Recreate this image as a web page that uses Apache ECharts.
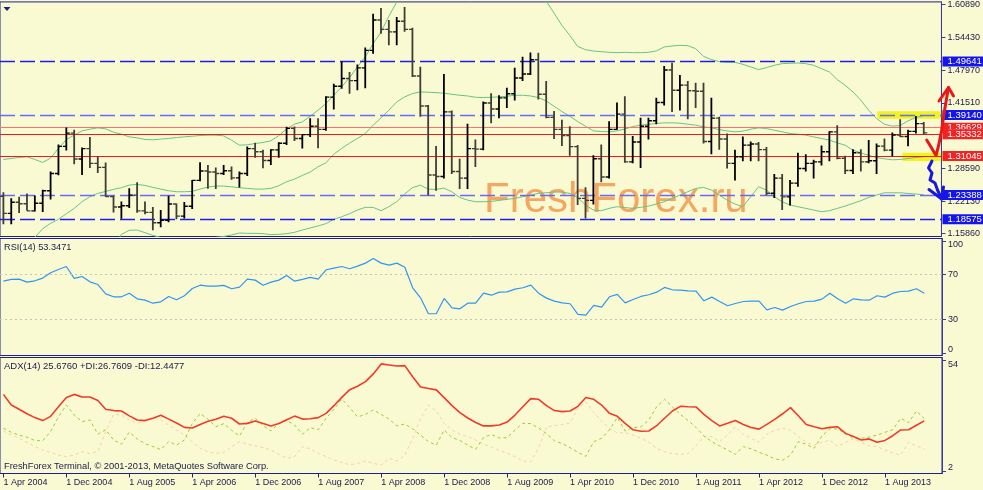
<!DOCTYPE html>
<html><head><meta charset="utf-8">
<script src="https://cdn.jsdelivr.net/npm/echarts@6/dist/echarts.min.js"></script>
<style>html,body{margin:0;padding:0;background:#FAFAD2;}#c{width:983px;height:490px;}</style>
</head><body><div id="c"></div>
<script>
// ---- data (EURUSD, monthly, 1 Apr 2004 .. 1 Jan 2014) ----
const opens = [1.2310,1.1975,1.2195,1.2165,1.2025,1.2175,1.2420,1.2760,1.3295,1.3555,
1.3045,1.3250,1.2960,1.2880,1.2305,1.2100,1.2125,1.2335,1.2025,1.1995,
1.1790,1.1840,1.2160,1.1920,1.2115,1.2625,1.2810,1.2790,1.2760,1.2815,
1.2675,1.2760,1.3250,1.3190,1.3015,1.3225,1.3355,1.3650,1.3450,1.3525,
1.3690,1.3630,1.4265,1.4480,1.4630,1.4590,1.4840,1.5185,1.5785,1.5600,
1.5550,1.5760,1.5600,1.4680,1.4090,1.2730,1.2700,1.3975,1.2800,1.2670,
1.3250,1.3240,1.4150,1.4030,1.4250,1.4330,1.4640,1.4720,1.5000,1.4320,
1.3865,1.3630,1.3510,1.3290,1.2270,1.2230,1.3050,1.2690,1.3630,1.3930,
1.2990,1.3380,1.3690,1.3800,1.4160,1.4800,1.4400,1.4500,1.4390,1.4380,
1.3390,1.3850,1.3440,1.2960,1.3090,1.3320,1.3340,1.3230,1.2370,1.2670,
1.2300,1.2570,1.2860,1.2960,1.2990,1.3190,1.3580,1.3060,1.2820,1.3170,
1.2990,1.3010,1.3300,1.3220,1.3520,1.3490,1.3590,1.3743];
const highs = [1.2390,1.2275,1.2300,1.2365,1.2325,1.2440,1.2800,1.3330,1.3667,1.3620,
1.3270,1.3480,1.3100,1.2975,1.2320,1.2210,1.2470,1.2590,1.2210,1.2100,
1.2040,1.2320,1.2170,1.2200,1.2630,1.2980,1.2930,1.2880,1.2930,1.2900,
1.2800,1.3290,1.3365,1.3230,1.3240,1.3375,1.3680,1.3685,1.3530,1.3850,
1.3850,1.4280,1.4527,1.4966,1.4760,1.4905,1.5240,1.5905,1.6019,1.5785,
1.5845,1.6038,1.5630,1.4865,1.4110,1.3300,1.4720,1.4000,1.3050,1.3740,
1.3430,1.4180,1.4340,1.4300,1.4450,1.4845,1.5060,1.5145,1.5140,1.4580,
1.3990,1.3820,1.3690,1.3320,1.2490,1.3120,1.3330,1.3790,1.4160,1.4280,
1.3500,1.3860,1.3860,1.4250,1.4880,1.4940,1.4700,1.4580,1.4550,1.4550,
1.4250,1.3880,1.3550,1.3230,1.3490,1.3390,1.3380,1.3280,1.2750,1.2750,
1.2630,1.3170,1.3140,1.3030,1.3310,1.3590,1.3710,1.3110,1.3240,1.3240,
1.3420,1.3350,1.3450,1.3570,1.3830,1.3620,1.3893,1.3775];
const lows = [1.1760,1.1760,1.1980,1.2025,1.2010,1.2000,1.2250,1.2725,1.3215,1.2940,
1.2730,1.2870,1.2770,1.2300,1.1990,1.1870,1.2080,1.1985,1.1960,1.1640,
1.1700,1.1800,1.1860,1.1875,1.2060,1.2610,1.2460,1.2455,1.2730,1.2635,
1.2485,1.2710,1.3070,1.2865,1.2930,1.3070,1.3320,1.3400,1.3255,1.3480,
1.3260,1.3600,1.4020,1.4430,1.4330,1.4400,1.4440,1.5120,1.5515,1.5285,
1.5285,1.5550,1.4660,1.3880,1.2330,1.2420,1.2660,1.2750,1.2455,1.2455,
1.2890,1.3220,1.3750,1.3850,1.4050,1.4200,1.4580,1.4700,1.4220,1.3850,
1.3440,1.3300,1.3110,1.2140,1.1875,1.2150,1.2590,1.2660,1.3620,1.2970,
1.2960,1.2870,1.3430,1.3730,1.4100,1.3970,1.4000,1.3830,1.4050,1.3350,
1.3140,1.3230,1.2860,1.2620,1.3000,1.3000,1.3000,1.2330,1.2280,1.2040,
1.2130,1.2500,1.2800,1.2660,1.2920,1.3000,1.3040,1.2750,1.2750,1.2800,
1.2960,1.2750,1.3200,1.3100,1.3480,1.3295,1.3548,1.3530];
const closes = [1.1975,1.2195,1.2165,1.2025,1.2175,1.2420,1.2760,1.3295,1.3555,1.3045,
1.3250,1.2960,1.2880,1.2305,1.2100,1.2125,1.2335,1.2025,1.1995,1.1790,
1.1840,1.2160,1.1920,1.2115,1.2625,1.2810,1.2790,1.2760,1.2815,1.2675,
1.2760,1.3250,1.3190,1.3015,1.3225,1.3355,1.3650,1.3450,1.3525,1.3690,
1.3630,1.4265,1.4480,1.4630,1.4590,1.4840,1.5185,1.5785,1.5600,1.5550,
1.5760,1.5600,1.4680,1.4090,1.2730,1.2700,1.3975,1.2800,1.2670,1.3250,
1.3240,1.4150,1.4030,1.4250,1.4330,1.4640,1.4720,1.5000,1.4320,1.3865,
1.3630,1.3510,1.3290,1.2270,1.2230,1.3050,1.2690,1.3630,1.3930,1.2990,
1.3380,1.3690,1.3800,1.4160,1.4800,1.4400,1.4500,1.4390,1.4380,1.3390,
1.3850,1.3440,1.2960,1.3090,1.3320,1.3340,1.3230,1.2370,1.2670,1.2300,
1.2570,1.2860,1.2960,1.2990,1.3190,1.3580,1.3060,1.2820,1.3170,1.2990,
1.3010,1.3300,1.3220,1.3520,1.3490,1.3590,1.3743,1.3560];

const bbUpper = [1.3037,1.3056,1.3076,1.3089,1.3037,1.2978,1.3063,1.3253,1.3430,1.3515,
1.3600,1.3633,1.3659,1.3640,1.3574,1.3535,1.3482,1.3463,1.3430,1.3424,
1.3437,1.3450,1.3469,1.3482,1.3495,1.3508,1.3515,1.3515,1.3502,1.3417,
1.3318,1.3325,1.3351,1.3371,1.3404,1.3502,1.3640,1.3731,1.3777,1.3889,
1.4007,1.4138,1.4301,1.4465,1.4649,1.4859,1.5055,1.5317,1.5547,1.5855,
1.6137,1.6400,1.6600,1.6800,1.7000,1.7100,1.7200,1.7200,1.7100,1.7000,
1.6900,1.6800,1.6700,1.6600,1.6500,1.6400,1.6300,1.6250,1.6200,1.6156,
1.5920,1.5678,1.5481,1.5265,1.5199,1.5173,1.5160,1.5147,1.5140,1.5147,
1.5140,1.5140,1.5147,1.5173,1.5252,1.5272,1.5285,1.5278,1.5219,1.5068,
1.5003,1.4964,1.4950,1.4950,1.4911,1.4859,1.4806,1.4846,1.4891,1.4924,
1.4931,1.4937,1.4924,1.4891,1.4826,1.4760,1.4610,1.4498,1.4367,1.4203,
1.4007,1.3843,1.3731,1.3692,1.3705,1.3797,1.3862,1.3902];
const bbMiddle = [1.1300,1.1350,1.1380,1.1420,1.1503,1.1673,1.1778,1.1857,1.1968,1.2073,
1.2204,1.2302,1.2368,1.2407,1.2447,1.2480,1.2532,1.2545,1.2525,1.2486,
1.2453,1.2421,1.2401,1.2401,1.2407,1.2453,1.2493,1.2512,1.2512,1.2499,
1.2480,1.2467,1.2453,1.2453,1.2467,1.2519,1.2597,1.2650,1.2722,1.2788,
1.2893,1.2971,1.3141,1.3253,1.3358,1.3450,1.3548,1.3712,1.3856,1.4007,
1.4170,1.4269,1.4334,1.4367,1.4361,1.4354,1.4341,1.4321,1.4301,1.4288,
1.4262,1.4256,1.4262,1.4269,1.4282,1.4301,1.4301,1.4288,1.4256,1.4190,
1.4085,1.3980,1.3889,1.3784,1.3692,1.3600,1.3587,1.3581,1.3600,1.3636,
1.3685,1.3712,1.3731,1.3744,1.3758,1.3758,1.3751,1.3731,1.3712,1.3679,
1.3659,1.3626,1.3600,1.3581,1.3594,1.3633,1.3659,1.3646,1.3613,1.3581,
1.3548,1.3535,1.3515,1.3482,1.3450,1.3417,1.3364,1.3318,1.3220,1.3168,
1.3115,1.3076,1.3050,1.3030,1.3037,1.3056,1.3076,1.3089];
const bbLower = [0.9500,0.9600,0.9700,0.9800,0.9900,1.0000,1.0100,1.0300,1.0500,1.0600,
1.0800,1.1000,1.1100,1.1200,1.1300,1.1562,1.1641,1.1647,1.1595,1.1542,
1.1500,1.1450,1.1420,1.1400,1.1400,1.1450,1.1480,1.1500,1.1520,1.1550,
1.1588,1.1582,1.1582,1.1575,1.1556,1.1562,1.1575,1.1601,1.1647,1.1687,
1.1726,1.1772,1.1857,1.1909,1.1968,1.2040,1.2093,1.2093,1.2027,1.2106,
1.2204,1.2355,1.2480,1.2532,1.2453,1.2447,1.2473,1.2401,1.2289,1.2237,
1.2204,1.2204,1.2211,1.2230,1.2250,1.2270,1.2302,1.2335,1.2368,1.2381,
1.2394,1.2394,1.2368,1.2289,1.2139,1.2040,1.2027,1.2073,1.2106,1.2090,
1.2073,1.2093,1.2119,1.2158,1.2204,1.2270,1.2335,1.2401,1.2467,1.2486,
1.2434,1.2335,1.2237,1.2158,1.2106,1.2302,1.2499,1.2434,1.2302,1.2204,
1.2139,1.2106,1.2073,1.2040,1.2008,1.2027,1.2073,1.2119,1.2171,1.2224,
1.2289,1.2335,1.2381,1.2381,1.2381,1.2368,1.2355,1.2342];

const rsi = [64.1,65.6,65.9,63.2,64.4,66.8,71.5,74.5,77.1,66.5,
68.2,63.5,61.1,52.8,50.2,50.2,53.4,48.4,47.2,44.5,
45.7,50.5,47.5,51.1,57.6,60.5,59.7,59.7,60.3,57.3,
58.8,65.9,65.0,60.5,63.2,65.0,69.1,64.1,65.6,67.4,
65.9,74.2,75.7,77.1,75.1,77.4,80.1,84.3,80.1,78.3,
80.1,76.5,58.2,49.3,35.1,35.1,48.7,40.4,39.5,44.5,
44.5,53.4,51.6,54.3,54.6,57.0,58.2,60.5,53.4,49.0,
46.3,44.8,44.0,34.5,33.9,42.5,41.0,50.2,52.3,44.8,
47.8,50.5,52.0,54.3,58.5,56.4,56.1,55.5,55.2,46.6,
49.9,46.0,42.2,44.2,46.0,46.3,46.3,38.6,40.7,38.3,
41.6,44.0,46.0,46.3,48.1,53.4,48.4,44.5,48.4,47.5,
47.2,51.1,49.9,53.4,54.9,55.2,57.3,53.35];

const adx = [38.1,33.1,31.1,29.0,27.2,25.8,27.8,32.3,36.6,38.1,
36.9,36.9,35.2,31.1,30.5,30.3,28.0,26.1,25.8,26.9,
28.3,26.5,24.7,22.6,22.3,24.0,25.5,26.4,27.8,26.9,
24.2,24.5,25.6,24.4,23.3,24.4,26.2,27.9,26.5,26.7,
27.2,29.2,32.8,36.7,40.3,41.9,44.1,47.7,52.4,51.9,
51.4,51.6,46.4,41.6,40.9,40.2,36.6,32.8,29.5,27.0,
24.9,23.3,23.3,23.7,25.1,28.4,32.3,36.1,35.8,32.8,
30.5,30.0,30.3,32.5,36.6,35.8,33.1,29.2,27.8,24.5,
21.5,20.8,20.9,23.4,26.9,30.3,32.5,32.3,32.2,28.7,
25.8,23.3,24.5,25.8,24.0,22.6,21.8,24.0,26.4,29.0,
31.9,28.1,24.0,22.9,22.0,22.6,22.9,19.8,18.3,16.7,
17.2,15.6,16.5,18.7,21.4,21.5,23.6,25.68];
const plusDI = [22.2,20.3,19.0,18.0,16.4,16.4,20.6,27.6,33.1,28.4,
25.3,26.1,19.4,21.5,16.7,14.7,20.4,17.2,15.0,13.6,
12.2,15.9,14.3,16.7,24.5,29.1,26.4,22.9,24.4,21.2,
18.6,25.0,26.9,23.4,20.9,24.5,25.9,23.7,19.4,22.5,
21.5,26.9,31.1,35.9,31.9,27.5,28.7,30.8,28.7,26.5,
23.3,24.2,21.9,19.0,15.9,14.3,21.4,17.8,16.5,14.3,
12.3,17.9,19.3,17.6,17.8,21.4,24.5,24.4,22.3,19.7,
16.4,15.0,13.1,10.9,9.0,15.9,17.5,21.4,27.2,20.9,
22.5,22.9,26.1,32.3,35.8,32.3,28.7,25.8,22.6,18.6,
15.9,13.9,12.0,10.0,13.6,12.6,10.9,9.6,7.8,7.2,
9.6,15.9,14.7,12.8,18.6,21.9,21.9,19.5,17.5,17.5,
18.1,19.0,20.3,21.5,26.9,24.8,30.3,26.76];
const minusDI = [20.9,19.0,17.5,15.6,13.6,12.0,10.9,9.6,8.9,9.6,
11.2,10.4,11.2,20.6,28.7,28.4,26.1,24.5,26.1,27.2,
26.1,23.7,21.4,19.0,15.9,12.8,11.2,10.4,10.9,13.6,
15.9,14.7,14.0,13.1,12.0,10.0,8.1,8.9,13.6,12.5,
10.4,8.9,7.3,6.2,5.0,5.7,6.8,5.7,5.0,8.1,
6.8,9.6,17.5,26.9,33.1,30.3,24.5,21.4,19.4,18.3,
16.7,14.7,13.3,11.8,10.4,8.9,6.8,6.5,12.8,22.9,
23.4,24.0,24.7,31.6,34.7,29.7,25.6,22.2,20.0,20.1,
19.0,17.5,15.6,12.8,11.2,10.3,10.0,10.4,14.0,18.3,
18.3,15.9,19.0,22.9,19.4,17.5,15.6,19.4,21.2,22.2,
21.4,18.3,15.6,14.3,15.6,16.7,13.6,15.6,17.2,15.6,
14.0,13.6,12.0,10.6,9.6,15.6,13.9,12.45];

const tickIndex = [0,8,16,24,32,40,48,56,64,72,80,88,96,104,112];
const tickLabels = ['1 Apr 2004','1 Dec 2004','1 Aug 2005','1 Apr 2006','1 Dec 2006','1 Aug 2007','1 Apr 2008','1 Dec 2008','1 Aug 2009','1 Apr 2010','1 Dec 2010','1 Aug 2011','1 Apr 2012','1 Dec 2012','1 Aug 2013'];
const priceTicks = [1.60890,1.54430,1.47970,1.41510,1.28590,1.22130,1.15860];
const levelValues = [1.49641,1.39140,1.36629,1.35332,1.31045,1.23388,1.18575];
const rsiLevels = [70,30];
const rsiTicks = [0,30,70,100];
const adxTicks = [2,54];
// highlighted zones (bar index range, price range)
const zoneTop = [111.1,119.2,1.3985,1.3840];
const zoneBottom = [114.3,119.2,1.3170,1.3008];

// ---- styles ----
const NAVY = '#20208a';
const TXT = '#1a1a4e';
const FONT = 'Liberation Sans, Arial, sans-serif';
const levelLine = ['#1c1cf0','#6a6af8','#ff7070','#f01818','#f01818','#6a6af8','#1c1cf0'];
const levelDash = [true,true,false,false,false,true,true];
const levelBox  = ['#1414ee','#1414ee','#f02424','#f02424','#f02424','#1414ee','#1414ee'];

// plot spans x = -3 .. 942; bar 0 sits at x ~ 0.4, 7.896 px per month
const XMIN = -0.43, XMAX = 119.25;
function xAx(gi, showLabels){
  return {type:'value', gridIndex:gi, min:XMIN, max:XMAX, splitLine:{show:false},
    axisLine:{show:showLabels, onZero:false, lineStyle:{color:NAVY}},
    axisTick:{show:showLabels, customValues:tickIndex, length:4, lineStyle:{color:NAVY}},
    axisLabel:{show:showLabels, customValues:tickIndex, align:'left', margin:5, color:TXT,
      fontSize:9, fontFamily:FONT, formatter:(v)=>tickLabels[tickIndex.indexOf(Math.round(v))]||''}};
}
function yAx(gi, min, max, ticks, fmt){
  return {type:'value', gridIndex:gi, position:'right', min:min, max:max,
    splitLine:{show:false},
    axisLine:{show:true, onZero:false, lineStyle:{color:'#3a3a9a'}},
    axisTick:{show:true, customValues:ticks, length:4, lineStyle:{color:'#3a3a9a'}},
    axisLabel:{show:true, customValues:ticks, margin:6, color:TXT, fontSize:9, fontFamily:FONT,
      formatter:fmt, rich:{t:{padding:[8,0,0,0], fontSize:9, color:TXT, fontFamily:FONT},
                          b:{padding:[0,0,8,0], fontSize:9, color:TXT, fontFamily:FONT}}}};
}

const ohlc = opens.map((o,i)=>[i,o,highs[i],lows[i],closes[i]]);
const idxPairs = arr => arr.map((v,i)=>[i,v]);

const chart = echarts.init(document.getElementById('c'), null, {renderer:'canvas'});
const option = {
  animation:false,
  backgroundColor:'#FAFAD2',
  grid:[
    {left:-3, top:1.5, width:945, height:235, show:true, borderColor:NAVY, borderWidth:1, backgroundColor:'transparent'},
    {left:-3, top:238.5, width:945, height:117, show:true, borderColor:NAVY, borderWidth:1, backgroundColor:'transparent'},
    {left:-3, top:357.5, width:945, height:116, show:true, borderColor:NAVY, borderWidth:1, backgroundColor:'transparent'}
  ],
  xAxis:[xAx(0,false), xAx(1,false), xAx(2,true)],
  yAxis:[
    yAx(0, 1.15193, 1.61399, priceTicks, v=>v.toFixed(5)),
    yAx(1, -2.0, 102.0, rsiTicks, v=> v===100?'{t|100}':(v===0?'{b|0}':String(v))),
    yAx(2, 0.97, 55.41, adxTicks, v=> v===54?'{t|54}':'{b|2}')
  ],
  graphic:[
    {type:'text', z:1, style:{x:484, y:200, text:'FreshForex.ru', fontSize:42, fontFamily:FONT, fill:'#F5A661', verticalAlign:'middle'}},
    {type:'polygon', z:50, shape:{points:[[3.5,7],[10.5,7],[7,11]]}, style:{fill:'#1c1c8a'}},
    {type:'text', z:50, style:{x:4, y:247.5, text:'RSI(14) 53.3471', fontSize:9.2, fontFamily:FONT, fill:TXT, verticalAlign:'middle'}},
    {type:'text', z:50, style:{x:4, y:366.5, text:'ADX(14) 25.6760 +DI:26.7609 -DI:12.4477', fontSize:9.5, fontFamily:FONT, fill:TXT, verticalAlign:'middle'}},
    {type:'text', z:50, style:{x:4, y:466, text:'FreshForex Terminal, \u00a9 2001-2013, MetaQuotes Software Corp.', fontSize:9.3, fontFamily:FONT, fill:TXT, verticalAlign:'middle'}},
    {type:'polyline', z:60, shape:{points:[[926.7,140],[931,147],[936,155.5],[938.5,146],[941.5,131],[944,114],[946.3,100],[948.5,87.5]]},
      style:{stroke:'#e81818', lineWidth:3, fill:null, lineCap:'round', lineJoin:'round'}},
    {type:'polyline', z:60, shape:{points:[[939,101],[948.5,87.5],[953.5,96]]},
      style:{stroke:'#e81818', lineWidth:3, fill:null, lineCap:'round', lineJoin:'round'}},
    {type:'polyline', z:60, shape:{points:[[932,161],[928.5,168],[932,173],[930,180],[935,183],[937.5,190],[941.7,199]]},
      style:{stroke:'#1818e0', lineWidth:3, fill:null, lineCap:'round', lineJoin:'round'}},
    {type:'polyline', z:60, shape:{points:[[929,189.5],[941.7,199],[943.5,187]]},
      style:{stroke:'#1818e0', lineWidth:3, fill:null, lineCap:'round', lineJoin:'round'}}
  ],
  series:[
    {type:'line', xAxisIndex:0, yAxisIndex:0, data:[], z:1, silent:true,
      markArea:{silent:true, itemStyle:{color:'rgba(240,240,0,0.85)'}, data:[
        [{coord:[zoneTop[0],zoneTop[2]]},{coord:[zoneTop[1],zoneTop[3]]}],
        [{coord:[zoneBottom[0],zoneBottom[2]]},{coord:[zoneBottom[1],zoneBottom[3]]}]
      ]}},
    {type:'line', xAxisIndex:0, yAxisIndex:0, data:[], z:3, silent:true,
      markLine:{symbol:'none', silent:true, precision:5, data: levelValues.map((v,k)=>({
        yAxis:v,
        lineStyle:{color:levelLine[k], type: levelDash[k]?[15,5]:'solid', width: levelDash[k]?1.4:1, opacity:1},
        label:{show:true, position:'end', distance:1, formatter:v.toFixed(5), color:'#fff',
          backgroundColor:levelBox[k], padding:[0,6,0,5], lineHeight:10, height:10,
          fontSize:9.5, fontFamily:FONT}
      }))}},
    {type:'line', name:'bbU', xAxisIndex:0, yAxisIndex:0, data:idxPairs(bbUpper), symbol:'none', z:4, lineStyle:{color:'#66c486', width:1}},
    {type:'line', name:'bbM', xAxisIndex:0, yAxisIndex:0, data:idxPairs(bbMiddle), symbol:'none', z:4, lineStyle:{color:'#66c486', width:1}},
    {type:'line', name:'bbL', xAxisIndex:0, yAxisIndex:0, data:idxPairs(bbLower), symbol:'none', z:4, lineStyle:{color:'#66c486', width:1}},
    {type:'custom', name:'EURUSD', xAxisIndex:0, yAxisIndex:0, z:6, clip:true, data:ohlc,
      encode:{x:0, y:[1,2,3,4]},
      renderItem:function(params, api){
        const x = api.value(0), o = api.value(1), h = api.value(2), l = api.value(3), c = api.value(4);
        const pH = api.coord([x,h]), pL = api.coord([x,l]), pO = api.coord([x,o]), pC = api.coord([x,c]);
        const px = pH[0];
        const col = c >= o ? '#000000' : '#3e3e36';
        return {type:'group', children:[
          {type:'line', shape:{x1:px, y1:pH[1], x2:px, y2:pL[1]}, style:{stroke:col, lineWidth:1.8}},
          {type:'line', shape:{x1:px-3.5, y1:pO[1], x2:px, y2:pO[1]}, style:{stroke:col, lineWidth:1.4}},
          {type:'line', shape:{x1:px, y1:pC[1], x2:px+3.5, y2:pC[1]}, style:{stroke:col, lineWidth:1.4}}
        ]};
      }},
    {type:'line', name:'RSI', xAxisIndex:1, yAxisIndex:1, data:idxPairs(rsi), symbol:'none', z:4,
      lineStyle:{color:'#2f96f2', width:1.2},
      markLine:{symbol:'none', silent:true, label:{show:false},
        lineStyle:{color:'#c4c4b8', type:[2,3], width:1},
        data: rsiLevels.map(v=>({yAxis:v}))}},
    {type:'line', name:'-DI', xAxisIndex:2, yAxisIndex:2, data:idxPairs(minusDI), symbol:'none', z:3,
      lineStyle:{color:'#f6cfae', width:1, type:[3,3]}},
    {type:'line', name:'+DI', xAxisIndex:2, yAxisIndex:2, data:idxPairs(plusDI), symbol:'none', z:4,
      lineStyle:{color:'#9acd32', width:1, type:[3,3]}},
    {type:'line', name:'ADX', xAxisIndex:2, yAxisIndex:2, data:idxPairs(adx), symbol:'none', z:5,
      lineStyle:{color:'#f23a2c', width:1.6}}
  ]
};
chart.setOption(option);
</script>
</body></html>
